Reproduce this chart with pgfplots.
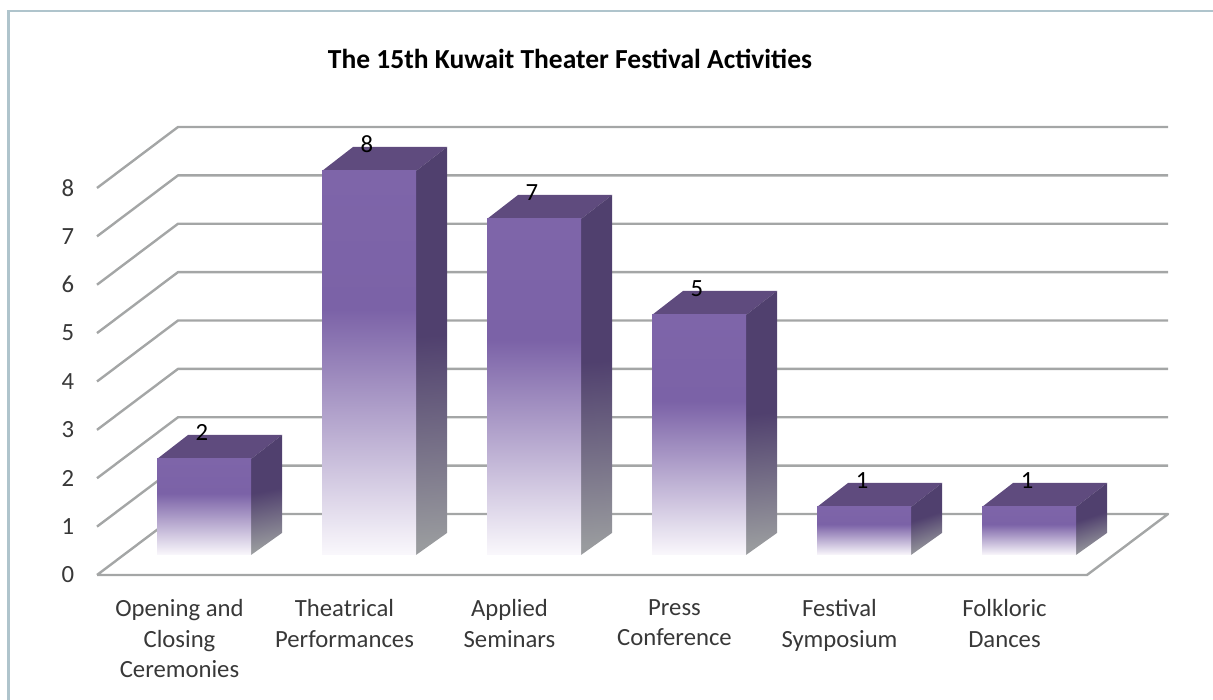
\documentclass[border=0pt]{standalone}
\usepackage{pgfplots}
\pgfplotsset{compat=1.18}
\usepackage{fontspec}
\setmainfont{Carlito}
\definecolor{gridc}{HTML}{A4A6A6}
\definecolor{framec}{HTML}{AFC4CC}
\definecolor{topc}{HTML}{5F4B7E}
\definecolor{barA}{HTML}{7E65A9}
\definecolor{barB}{HTML}{7B62A7}
\definecolor{barC}{HTML}{FAF8FC}
\definecolor{sideA}{HTML}{50406E}
\definecolor{sideB}{HTML}{999B9E}
\definecolor{textc}{HTML}{383838}
\pgfdeclareverticalshading{barfront}{100bp}{color(0bp)=(barC); color(25bp)=(barC); color(57bp)=(barB); color(75bp)=(barA); color(100bp)=(barA)}
\pgfdeclareverticalshading{barside}{100bp}{color(0bp)=(sideB); color(25bp)=(sideB); color(52bp)=(sideA); color(75bp)=(sideA); color(100bp)=(sideA)}
\pgfplotsset{
  frontbar/.style={ybar, bar width=94pt, draw=none, shade, shading=barfront,
    nodes near coords={\fontsize{24.7}{28}\selectfont\pgfmathprintnumber[assume math mode=true]{\pgfplotspointmeta}},
    every node near coord/.append style={anchor=center, yshift=26.5pt, xshift=-2pt, text=black}},
}
\begin{document}
\begin{tikzpicture}[x=1pt,y=1pt]
\path[use as bounding box] (0,0) rectangle (1213,700);
\draw[framec,line width=2.5pt] (8.5,0) -- (8.5,689) -- (1213,689);
% front plane: value axis, category labels, walls
\begin{axis}[
  at={(97pt,125pt)}, anchor=south west, scale only axis,
  width=990pt, height=387pt,
  xmin=-0.5, xmax=5.5, ymin=0, ymax=8, clip=false,
  axis line style={draw=none}, tick style={draw=none},
  xtick={0,1,2,3,4,5},
  xticklabels={{Opening and\\Closing\\Ceremonies},{Theatrical\\Performances},{Applied\\Seminars},{Press\\Conference},{Festival\\Symposium},{Folkloric\\Dances}},
  xticklabel style={align=center, anchor=north, yshift=-21pt, text=textc, font=\fontsize{24.7}{30.5}\selectfont},
  ytick={0,1,2,3,4,5,6,7,8},
  yticklabel style={anchor=center, xshift=-29pt, text=textc, font=\fontsize{24.7}{28}\selectfont, /pgf/number format/assume math mode=true},
  title={\textbf{The 15th Kuwait Theater Festival Activities}},
  title style={at={(0.4778,1.317)}, anchor=center, font=\fontsize{27.5}{32}\selectfont},
]
\addplot[gridc,line width=2.4pt,line join=round] coordinates {(-0.5,0)(-0.009,1.261)(5.991,1.261)(5.5,0)(-0.5,0)};
\addplot[gridc,line width=2.4pt,line join=round] coordinates {(-0.5,1)(-0.009,2.261)(5.991,2.261)};
\addplot[gridc,line width=2.4pt,line join=round] coordinates {(-0.5,2)(-0.009,3.261)(5.991,3.261)};
\addplot[gridc,line width=2.4pt,line join=round] coordinates {(-0.5,3)(-0.009,4.261)(5.991,4.261)};
\addplot[gridc,line width=2.4pt,line join=round] coordinates {(-0.5,4)(-0.009,5.261)(5.991,5.261)};
\addplot[gridc,line width=2.4pt,line join=round] coordinates {(-0.5,5)(-0.009,6.261)(5.991,6.261)};
\addplot[gridc,line width=2.4pt,line join=round] coordinates {(-0.5,6)(-0.009,7.261)(5.991,7.261)};
\addplot[gridc,line width=2.4pt,line join=round] coordinates {(-0.5,7)(-0.009,8.261)(5.991,8.261)};
\addplot[gridc,line width=2.4pt,line join=round] coordinates {(-0.5,8)(-0.009,9.261)(5.991,9.261)};
\end{axis}
% bar plane
\begin{axis}[
  at={(97pt,145pt)}, anchor=south west, scale only axis,
  width=990pt, height=384pt,
  xmin=-0.6485, xmax=5.3515, ymin=0, ymax=8, clip=false,
  hide axis,
]
% top faces
\addplot[fill=topc,draw=none] coordinates {(-0.2848,2)(-0.097,2.5)(0.473,2.5)(0.2848,2)} -- cycle;
\addplot[fill=topc,draw=none] coordinates {(0.7152,8)(0.903,8.5)(1.473,8.5)(1.2848,8)} -- cycle;
\addplot[fill=topc,draw=none] coordinates {(1.7152,7)(1.903,7.5)(2.473,7.5)(2.2848,7)} -- cycle;
\addplot[fill=topc,draw=none] coordinates {(2.7152,5)(2.903,5.5)(3.473,5.5)(3.2848,5)} -- cycle;
\addplot[fill=topc,draw=none] coordinates {(3.7152,1)(3.903,1.5)(4.473,1.5)(4.2848,1)} -- cycle;
\addplot[fill=topc,draw=none] coordinates {(4.7152,1)(4.903,1.5)(5.473,1.5)(5.2848,1)} -- cycle;
% side faces
\addplot[shade,shading=barside,shading angle=11.3,draw=none] coordinates {(0.2848,0)(0.2848,2)(0.473,2.5)(0.473,0.46)} -- cycle;
\addplot[shade,shading=barside,shading angle=3.4,draw=none] coordinates {(1.2848,0)(1.2848,8)(1.473,8.5)(1.473,0.46)} -- cycle;
\addplot[shade,shading=barside,shading angle=3.8,draw=none] coordinates {(2.2848,0)(2.2848,7)(2.473,7.5)(2.473,0.46)} -- cycle;
\addplot[shade,shading=barside,shading angle=5.2,draw=none] coordinates {(3.2848,0)(3.2848,5)(3.473,5.5)(3.473,0.46)} -- cycle;
\addplot[shade,shading=barside,shading angle=18.4,draw=none] coordinates {(4.2848,0)(4.2848,1)(4.473,1.5)(4.473,0.46)} -- cycle;
\addplot[shade,shading=barside,shading angle=18.4,draw=none] coordinates {(5.2848,0)(5.2848,1)(5.473,1.5)(5.473,0.46)} -- cycle;
% front faces with value labels, one plot per bar so each has its own gradient
\addplot[frontbar] coordinates {(0,2)};
\addplot[frontbar] coordinates {(1,8)};
\addplot[frontbar] coordinates {(2,7)};
\addplot[frontbar] coordinates {(3,5)};
\addplot[frontbar] coordinates {(4,1)};
\addplot[frontbar] coordinates {(5,1)};
\end{axis}
\end{tikzpicture}
\end{document}
